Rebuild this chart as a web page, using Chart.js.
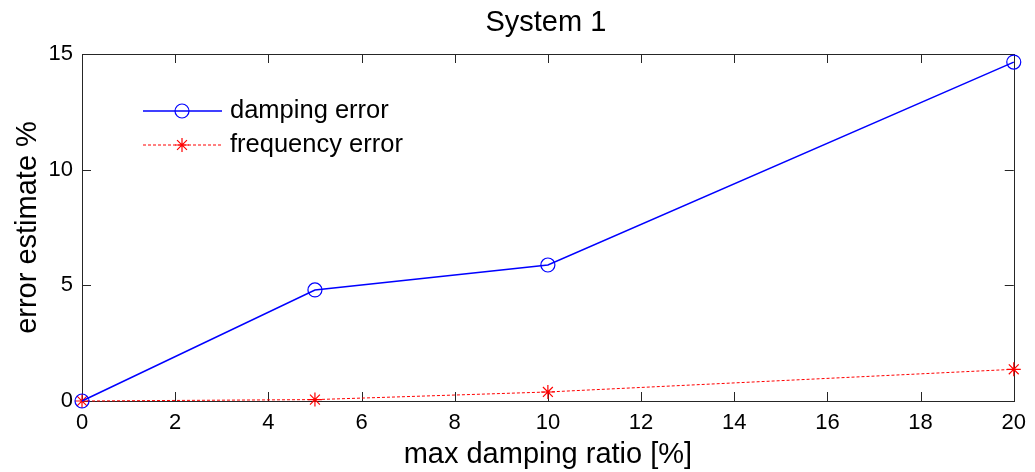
<!DOCTYPE html>
<html>
<head>
<meta charset="utf-8">
<script src="https://cdn.jsdelivr.net/npm/chart.js@4.4.0/dist/chart.umd.min.js"></script>
<style>
    html, body { margin: 0; padding: 0; background: #fff; }
    #wrap { width: 1035px; height: 472px; }
</style>
</head>
<body>
<div id="wrap"><canvas id="chart" width="1035" height="472"></canvas></div>
<script>
// data
const dampingRatio = [0, 5, 10, 20];
const dampingError = [0, 4.8, 5.88, 14.65];
const frequencyError = [0, 0.06, 0.39, 1.37];
const xTicks = [0, 2, 4, 6, 8, 10, 12, 14, 16, 18, 20];
const yTicks = [0, 5, 10, 15];
const seriesNames = ['damping error', 'frequency error'];
const chartTitle = 'System 1';

const FONT = 'Liberation Sans, Arial, Helvetica, sans-serif';

function toPoints(xs, ys) {
    return xs.map((x, i) => ({ x: x, y: ys[i] }));
}

// box + inward ticks, matlab style
const axesBox = {
    id: 'axesBox',
    beforeDatasetsDraw(chart) {
        const ctx = chart.ctx;
        const a = chart.chartArea;
        const xs = chart.scales.x;
        const ys = chart.scales.y;
        const len = 9;
        ctx.save();
        ctx.strokeStyle = '#262626';
        ctx.lineWidth = 1;
        ctx.beginPath();
        xs.ticks.forEach(t => {
            const px = Math.round(xs.getPixelForValue(t.value)) + 0.5;
            ctx.moveTo(px, a.bottom);
            ctx.lineTo(px, a.bottom - len);
            ctx.moveTo(px, a.top);
            ctx.lineTo(px, a.top + len);
        });
        ys.ticks.forEach(t => {
            const py = Math.round(ys.getPixelForValue(t.value)) + 0.5;
            ctx.moveTo(a.left, py);
            ctx.lineTo(a.left + len, py);
            ctx.moveTo(a.right, py);
            ctx.lineTo(a.right - len, py);
        });
        ctx.stroke();
        ctx.strokeRect(Math.round(a.left) + 0.5, Math.round(a.top) + 0.5,
            Math.round(a.right - a.left), Math.round(a.bottom - a.top));

        // title centred over the axes, not the canvas
        ctx.fillStyle = '#000';
        ctx.font = '29px ' + FONT;
        ctx.textAlign = 'center';
        ctx.textBaseline = 'middle';
        ctx.fillText(chartTitle, (a.left + a.right) / 2 - 2, 22.5);
        ctx.restore();
    }
};

// legend inside the axes, no frame
const insideLegend = {
    id: 'insideLegend',
    afterDraw(chart) {
        const ctx = chart.ctx;
        const x0 = 143, x1 = 222, xm = 182, tx = 230;
        const rows = [111, 145];
        ctx.save();
        chart.data.datasets.forEach((ds, i) => {
            const y = rows[i];
            ctx.strokeStyle = ds.borderColor;
            ctx.lineWidth = ds.borderWidth;
            ctx.setLineDash(ds.borderDash || []);
            ctx.beginPath();
            ctx.moveTo(x0, y);
            ctx.lineTo(x1, y);
            ctx.stroke();
            ctx.setLineDash([]);
            ctx.fillStyle = 'rgba(0,0,0,0)';
            ctx.lineWidth = ds.pointBorderWidth;
            Chart.helpers.drawPoint(ctx, {
                pointStyle: ds.pointStyle,
                radius: ds.pointRadius,
                rotation: 0,
                borderWidth: ds.pointBorderWidth
            }, xm, y);
            ctx.fillStyle = '#000';
            ctx.font = '25.5px ' + FONT;
            ctx.textBaseline = 'middle';
            ctx.textAlign = 'left';
            ctx.fillText(ds.label, tx, y);
        });
        ctx.restore();
    }
};

const ctx = document.getElementById('chart').getContext('2d');
const chart = new Chart(ctx, {
    type: 'line',
    data: {
        datasets: [{
            label: seriesNames[0],
            data: toPoints(dampingRatio, dampingError),
            borderColor: '#0000ff',
            borderWidth: 1.5,
            pointStyle: 'circle',
            pointRadius: 7,
            pointBorderWidth: 1.2,
            pointBorderColor: '#0000ff',
            pointBackgroundColor: 'rgba(0,0,0,0)',
            tension: 0
        }, {
            label: seriesNames[1],
            data: toPoints(dampingRatio, frequencyError),
            borderColor: '#ff0000',
            borderWidth: 1,
            borderDash: [3, 2],
            pointStyle: 'star',
            pointRadius: 7,
            pointBorderWidth: 1.2,
            pointBorderColor: '#ff0000',
            pointBackgroundColor: '#ff0000',
            tension: 0
        }]
    },
    options: {
        responsive: false,
        animation: false,
        clip: false,
        layout: { padding: { left: 0, right: 19, top: 54, bottom: 0 } },
        plugins: {
            legend: { display: false },
            tooltip: { enabled: false },
            title: { display: false }
        },
        scales: {
            x: {
                type: 'linear',
                min: 0,
                max: 20,
                afterBuildTicks: s => { s.ticks = xTicks.map(v => ({ value: v })); },
                afterFit: s => { s.height = 71; },
                grid: { display: false, drawTicks: false },
                border: { display: false },
                ticks: {
                    color: '#000',
                    padding: 9,
                    maxRotation: 0,
                    font: { family: FONT, size: 22 }
                },
                title: {
                    display: true,
                    text: 'max damping ratio [%]',
                    color: '#000',
                    font: { family: FONT, size: 29 },
                    padding: { top: 0, bottom: 0 }
                }
            },
            y: {
                type: 'linear',
                min: 0,
                max: 15,
                afterBuildTicks: s => { s.ticks = yTicks.map(v => ({ value: v })); },
                afterFit: s => { s.width = 82; },
                grid: { display: false, drawTicks: false },
                border: { display: false },
                ticks: {
                    color: '#000',
                    padding: 9,
                    font: { family: FONT, size: 22 }
                },
                title: {
                    display: true,
                    text: 'error estimate %',
                    color: '#000',
                    font: { family: FONT, size: 29 },
                    padding: { top: 11, bottom: 0 }
                }
            }
        }
    },
    plugins: [axesBox, insideLegend]
});
</script>
</body>
</html>
